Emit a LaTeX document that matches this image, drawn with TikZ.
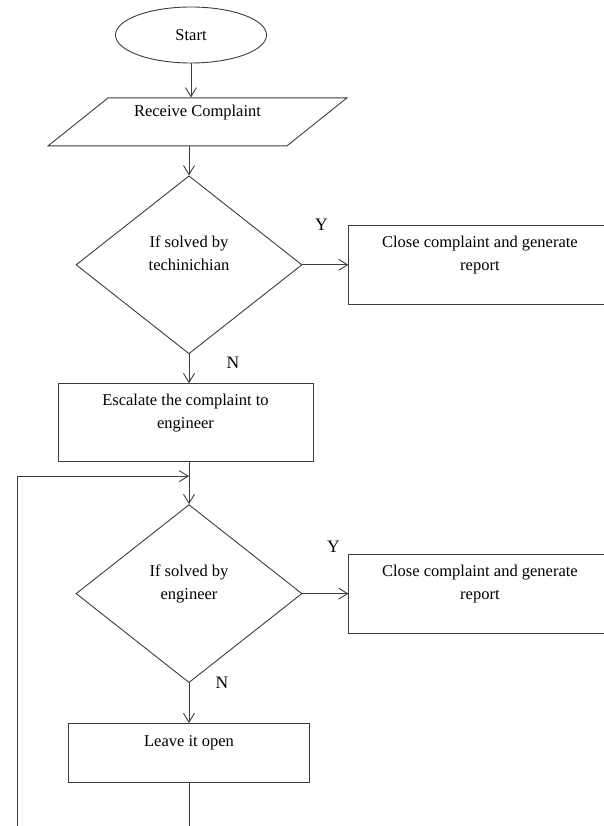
\documentclass[tikz,border=0pt]{standalone}
\usepackage{fontspec}
\setmainfont{Liberation Serif}
\usetikzlibrary{arrows.meta, shapes.geometric, positioning}
\definecolor{edge}{RGB}{60, 60, 60}

\begin{document}
\begin{tikzpicture}[
          x=1pt, y=1pt,
          node distance=30pt,
          txt/.style={font=\fontsize{16.5}{23}\selectfont, align=center, text=black},
          box/.style={txt, draw=edge, line width=0.9pt, inner sep=0pt},
          terminal/.style={box, ellipse, minimum width=151pt, minimum height=56pt},
          inbox/.style={box, trapezium, trapezium left angle=39, trapezium right angle=141,
                        trapezium stretches=true, minimum width=299pt, minimum height=48pt},
          decision/.style={box, diamond, minimum width=226pt, minimum height=178pt},
          process/.style={box, rectangle},
          arr/.style={-{Straight Barb[length=9pt, width=11pt]}, line width=0.9pt, color=edge},
          line/.style={line width=0.9pt, color=edge},
          yn/.style={font=\fontsize{17.5}{17.5}\selectfont, inner sep=0pt}
        ]
        \useasboundingbox (0,0) rectangle (603,-826);
        % Start and input
        \node[terminal] (start) at (191,-35) {Start};
        \node[inbox, below=34pt of start, xshift=6.5pt] (recv) {Receive Complaint\\ };
        % First check
        \node[decision, below=29pt of start.south |- recv.south, xshift=-2pt] (dec1) {If solved by\\techinichian\\ };
        \node[process, right=46pt of dec1, minimum width=262pt, minimum height=79pt] (close1)
              {Close complaint and generate\\report\\ };
        \node[process, below=29pt of dec1, xshift=-3.5pt, minimum width=255pt, minimum height=78pt] (esc)
              {Escalate the complaint to\\engineer\\ };
        % Second check
        \node[decision, below=42pt of esc, xshift=3.5pt] (dec2) {If solved by\\engineer\\ };
        \node[process, right=46pt of dec2, minimum width=262pt, minimum height=79pt] (close2)
              {Close complaint and generate\\report\\ };
        \node[process, below=40pt of dec2, minimum width=241pt, minimum height=59pt] (leave)
              {Leave it open\\ };

        \coordinate (merge) at ([yshift=-14pt]dec1.south |- esc.south);
        \coordinate (loopbot) at (17,-840);
        \coordinate (leavebot) at ([yshift=-60pt]leave.south);

        \draw[arr] (start) -- (start.south |- recv.north);
        \draw[arr] (dec1.north |- recv.south) -- (dec1.north);
        \draw[arr] (dec1.east) -- (close1.west);
        \draw[arr] (dec1.south) -- (dec1.south |- esc.north);
        \draw[arr] (dec2.north |- esc.south) -- (dec2.north);
        \draw[arr] (dec2.east) -- (close2.west);
        \draw[arr] (dec2.south) -- (leave.north);
        \draw[line] (leave.south) -- (leavebot);
        \draw[arr] (loopbot) |- (merge);

        % Labels
        \node[yn] (y1) at ([shift={(19pt,40pt)}]dec1.east) {Y};
        \node[yn] (n1) at ([shift={(44pt,-9pt)}]dec1.south) {N};
        \node[yn] (y2) at ([shift={(31pt,47pt)}]dec2.east) {Y};
        \node[yn] (n2) at ([shift={(33pt,0pt)}]dec2.south) {N};
      \end{tikzpicture}
\end{document}
